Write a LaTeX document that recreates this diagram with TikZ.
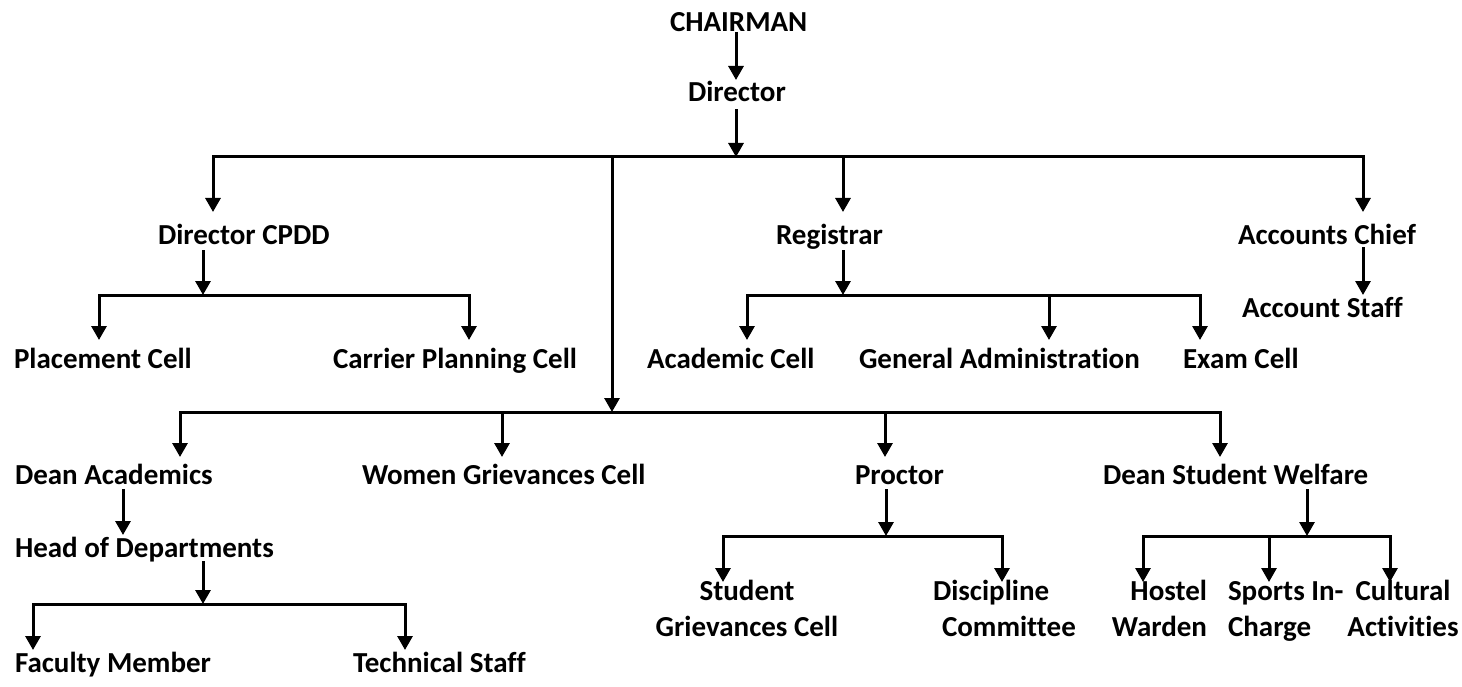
\documentclass[tikz,border=0pt]{standalone}
\usepackage{fontspec}
\setmainfont{Carlito}[Ligatures=NoCommon]
\usetikzlibrary{arrows.meta}
\begin{document}
\begin{tikzpicture}[x=1pt,y=-1pt,
  lbl/.style={inner sep=0pt, outer sep=0pt, font=\fontsize{29}{36.5}\selectfont\bfseries},
  link/.style={line width=3pt, line cap=rect},
  arr/.style={link, -{Triangle[width=15pt,length=14pt]}}]
\useasboundingbox (0,0) rectangle (1462,687);
% ---------- labels
\node[lbl, anchor=base west] (chair) at (670,32) {CHAIRMAN};
\node[lbl, anchor=base west] (dir) at (688,102) {Director};
\node[lbl, anchor=base west] (cpdd) at (158,245) {Director CPDD};
\node[lbl, anchor=base west] (reg) at (776,245) {Registrar};
\node[lbl, anchor=base west] (acc) at (1238,245) {Accounts Chief};
\node[lbl, anchor=base west] (accs) at (1242,317) {Account Staff};
\node[lbl, anchor=base west] (plc) at (14,368) {Placement Cell};
\node[lbl, anchor=base west] (cpc) at (333,368) {Carrier Planning Cell};
\node[lbl, anchor=base west] (acad) at (647,368) {Academic Cell};
\node[lbl, anchor=base west] (ga) at (859,368) {General Administration};
\node[lbl, anchor=base west] (exam) at (1183,368) {Exam Cell};
\node[lbl, anchor=base west] (dean) at (15,484) {Dean Academics};
\node[lbl, anchor=base west] (wgc) at (362,484) {Women Grievances Cell};
\node[lbl, anchor=base west] (proc) at (855,484) {Proctor};
\node[lbl, anchor=base west] (dsw) at (1103,484) {Dean Student Welfare};
\node[lbl, anchor=base west] (hod) at (15,557) {Head of Departments};
\node[lbl, anchor=base west] (fac) at (15,672) {Faculty Member};
\node[lbl, anchor=base west] (tech) at (353,672) {Technical Staff};
\node[lbl, anchor=base] (sgc) at (747,600) {\begin{tabular}[t]{@{}c@{}}Student\\Grievances Cell\end{tabular}};
\node[lbl, anchor=base west] (disc) at (933,600) {\begin{tabular}[t]{@{}l@{}}Discipline\\\hspace*{9pt}Committee\end{tabular}};
\node[lbl, anchor=base east] (host) at (1207,600) {\begin{tabular}[t]{@{}r@{}}Hostel\\Warden\end{tabular}};
\node[lbl, anchor=base west] (sport) at (1228,600) {\begin{tabular}[t]{@{}l@{}}Sports In-\\Charge\end{tabular}};
\node[lbl, anchor=base] (cult) at (1403,600) {\begin{tabular}[t]{@{}c@{}}Cultural\\Activities\end{tabular}};
% ---------- junction coordinates
\coordinate (chairS) at (736,34);
\coordinate (dirN) at (736,80);
\coordinate (dirS) at (736,111);
\coordinate (A) at (736,157);
\coordinate (AL) at (213,157);
\coordinate (AR) at (1363,157);
\coordinate (AM) at (612,157);
\coordinate (AG) at (843,157);
\coordinate (cpddN) at (213,212);
\coordinate (regN) at (843,212);
\coordinate (accN) at (1363,212);
\coordinate (B) at (612,412);
\coordinate (BL) at (180,412);
\coordinate (BR) at (1220,412);
\coordinate (BW) at (502,412);
\coordinate (BP) at (885,412);
\coordinate (deanN) at (180,457);
\coordinate (wgcN) at (502,457);
\coordinate (procN) at (885,457);
\coordinate (dswN) at (1220,457);
% CPDD
\coordinate (cpddS) at (203,252);
\coordinate (C) at (203,295);
\coordinate (CL) at (99,295);
\coordinate (CR) at (469,295);
\coordinate (plcN) at (99,340);
\coordinate (cpcN) at (469,340);
% Registrar
\coordinate (regS) at (843,252);
\coordinate (R) at (843,295);
\coordinate (RL) at (747,295);
\coordinate (RR) at (1200,295);
\coordinate (RG) at (1049,295);
\coordinate (acadN) at (747,340);
\coordinate (gaN) at (1049,340);
\coordinate (examN) at (1200,340);
% Accounts
\coordinate (accS) at (1363,249);
\coordinate (accsN) at (1363,295);
% Dean academics
\coordinate (deanS) at (123,490);
\coordinate (hodN) at (123,535);
\coordinate (hodS) at (203,562);
\coordinate (H) at (203,604);
\coordinate (HL) at (33,604);
\coordinate (HR) at (405,604);
\coordinate (facN) at (33,650);
\coordinate (techN) at (405,650);
% Proctor
\coordinate (procS) at (886,490);
\coordinate (P) at (886,536);
\coordinate (PL) at (723,536);
\coordinate (PR) at (1002,536);
\coordinate (sgcN) at (723,582);
\coordinate (discN) at (1002,582);
% DSW
\coordinate (dswS) at (1307,490);
\coordinate (W) at (1307,536);
\coordinate (WL) at (1143,536);
\coordinate (WR) at (1390,536);
\coordinate (WM) at (1269,536);
\coordinate (hostN) at (1143,582);
\coordinate (sportN) at (1269,582);
\coordinate (cultN) at (1390,582);
% ---------- connectors
\draw[arr] (chairS) -- (dirN);
\draw[arr] (dirS) -- (A);
\draw[arr] (AR) -- (AL) -- (cpddN);
\draw[arr] (AL) -- (AR) -- (accN);
\draw[arr] (AG) -- (regN);
\draw[arr] (AM) -- (B);
\draw[arr] (BR) -- (BL) -- (deanN);
\draw[arr] (BL) -- (BR) -- (dswN);
\draw[arr] (BW) -- (wgcN);
\draw[arr] (BP) -- (procN);
\draw[arr] (cpddS) -- (C);
\draw[arr] (CR) -- (CL) -- (plcN);
\draw[arr] (CL) -- (CR) -- (cpcN);
\draw[arr] (regS) -- (R);
\draw[arr] (RR) -- (RL) -- (acadN);
\draw[arr] (RL) -- (RR) -- (examN);
\draw[arr] (RG) -- (gaN);
\draw[arr] (accS) -- (accsN);
\draw[arr] (deanS) -- (hodN);
\draw[arr] (hodS) -- (H);
\draw[arr] (HR) -- (HL) -- (facN);
\draw[arr] (HL) -- (HR) -- (techN);
\draw[arr] (procS) -- (P);
\draw[arr] (PR) -- (PL) -- (sgcN);
\draw[arr] (PL) -- (PR) -- (discN);
\draw[arr] (dswS) -- (W);
\draw[arr] (WR) -- (WL) -- (hostN);
\draw[arr] (WL) -- (WR) -- (cultN);
\draw[arr] (WM) -- (sportN);
\end{tikzpicture}
\end{document}
